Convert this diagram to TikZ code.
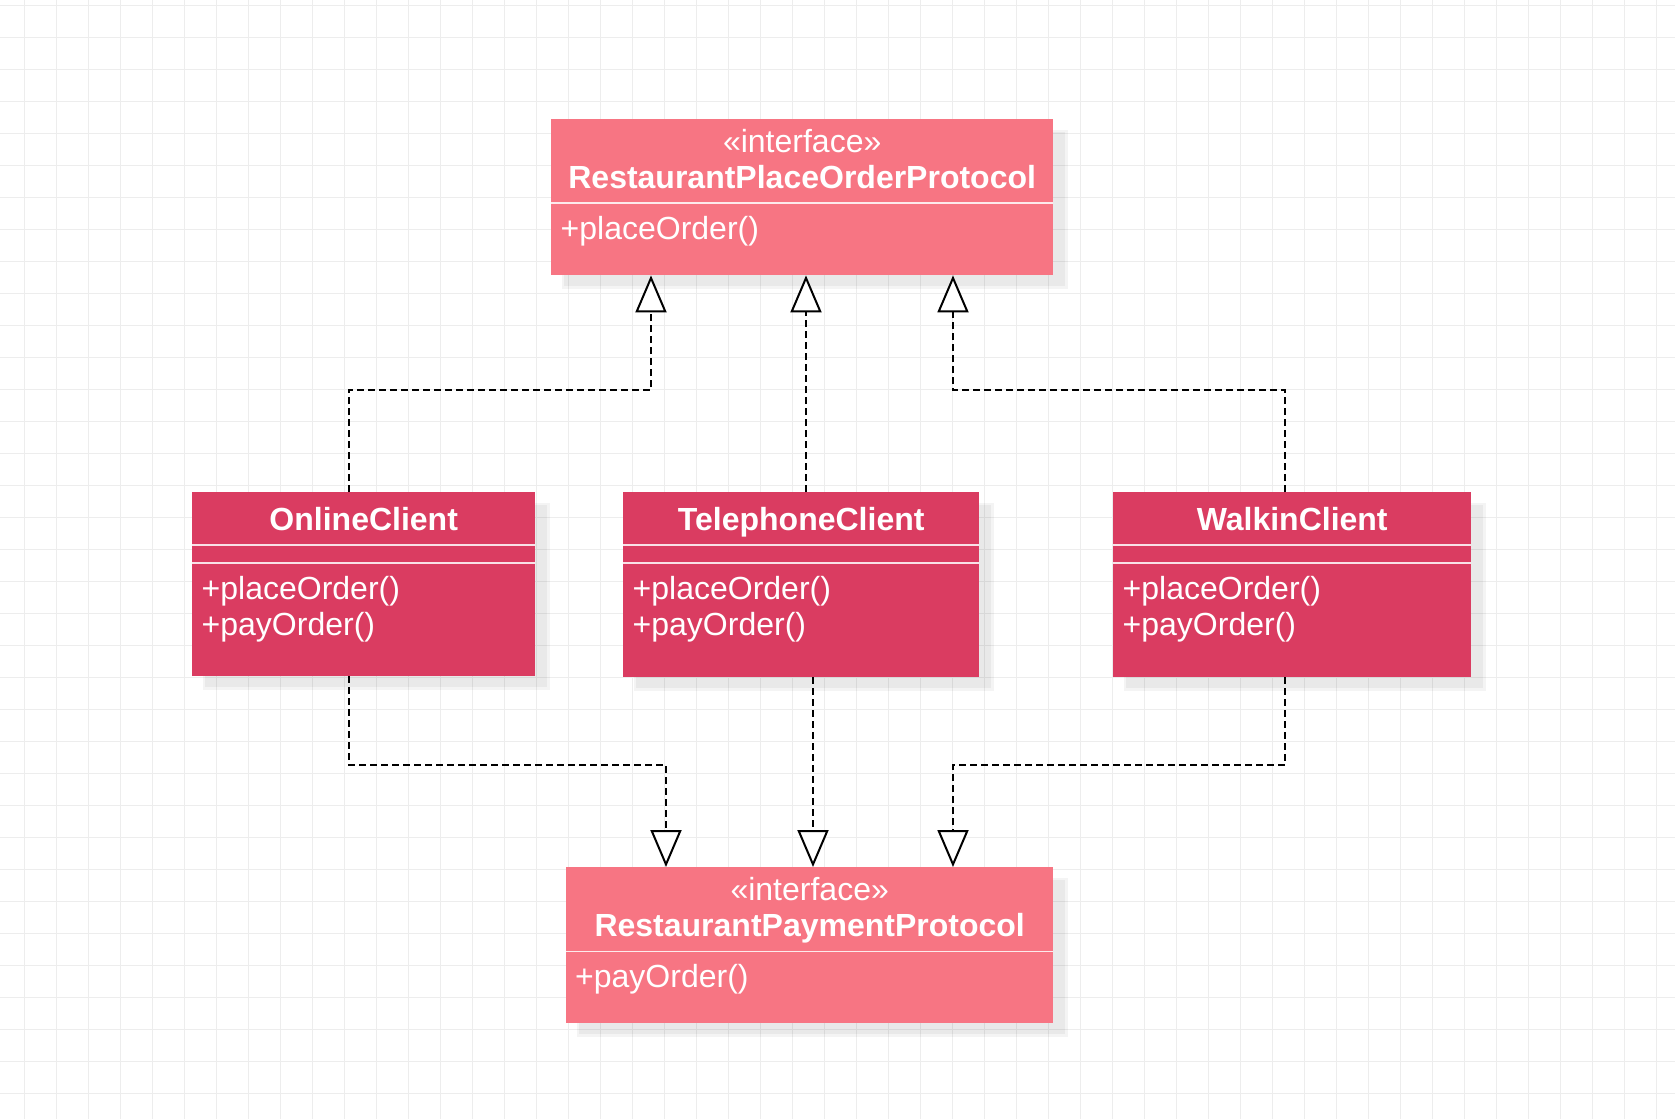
\documentclass[tikz,border=0pt]{standalone}
\usepackage{fontspec}
\setmainfont{Liberation Sans}
\usetikzlibrary{arrows.meta,calc}
\definecolor{ifc}{RGB}{247,117,131}
\definecolor{clc}{RGB}{218,60,97}
\definecolor{gridc}{RGB}{237,237,237}
\tikzset{
  ibox/.style={fill=ifc, draw=none, inner sep=0pt, anchor=north west},
  cbox/.style={fill=clc, draw=none, inner sep=0pt, anchor=north west},
  divl/.style={draw=white, draw opacity=0.85, line width=1.8pt},
  txt/.style={text=white, inner sep=0pt, font=\fontsize{32}{38}\selectfont},
  ttl/.style={text=white, inner sep=0pt, font=\fontsize{32}{38}\selectfont\bfseries, anchor=base},
  shad/.style={fill=black, fill opacity=0.045},
  dep/.style={draw=black, line width=2pt, dash pattern=on 7pt off 4pt,
    -{Triangle[open, fill=white, length=37pt, width=31pt, line width=2pt]}},
}
\begin{document}
\begin{tikzpicture}[x=1pt,y=-1pt]
\fill[white] (0,0) rectangle (1675,1119);
\useasboundingbox (0,0) rectangle (1675,1119);
% grid
\foreach \x in {24,56,...,1672} \draw[gridc,line width=1pt] (\x,0) -- (\x,1119);
\foreach \y in {5,37,...,1119} \draw[gridc,line width=1pt] (0,\y) -- (1675,\y);
% shadows
\foreach \a/\b/\c/\d in {551/119/1053/275, 192/492/535/676, 623/492/979/677, 1113/492/1471/677, 566/867/1053/1023}{
  \fill[shad] (\a+11,\b+11) rectangle (\c+15,\d+14);
  \fill[shad] (\a+13,\b+13) rectangle (\c+12,\d+11);
}
% boxes
\node[ibox, minimum width=502pt, minimum height=156pt] (place) at (551,119) {};
\node[cbox, minimum width=343pt, minimum height=184pt] (online) at (192,492) {};
\node[cbox, minimum width=356pt, minimum height=185pt] (tel) at (623,492) {};
\node[cbox, minimum width=358pt, minimum height=185pt] (walk) at (1113,492) {};
\node[ibox, minimum width=487pt, minimum height=156pt] (pay) at (566,867) {};
% dividers
\draw[divl] ($(place.north west)+(0,84)$) -- ($(place.north east)+(0,84)$);
\draw[divl] ($(pay.north west)+(0,84.5)$) -- ($(pay.north east)+(0,84.5)$);
\foreach \n in {online,tel,walk}{
  \draw[divl] ($(\n.north west)+(0,53)$) -- ($(\n.north east)+(0,53)$);
  \draw[divl] ($(\n.north west)+(0,71)$) -- ($(\n.north east)+(0,71)$);
}
% texts
\node[txt, anchor=base] (placeS) at ($(place.north)+(0,33)$) {«interface»};
\node[ttl] (placeT) at ($(place.north)+(0,69)$) {RestaurantPlaceOrderProtocol};
\node[txt, anchor=base west] (placeM) at ($(place.north west)+(9.5,120)$) {+placeOrder()};
\node[txt, anchor=base] (payS) at ($(pay.north)+(0,33)$) {«interface»};
\node[ttl] (payT) at ($(pay.north)+(0,69)$) {RestaurantPaymentProtocol};
\node[txt, anchor=base west] (payM) at ($(pay.north west)+(9,120)$) {+payOrder()};
\node[ttl] (onlineT) at ($(online.north)+(0,38)$) {OnlineClient};
\node[ttl] (telT) at ($(tel.north)+(0,38)$) {TelephoneClient};
\node[ttl] (walkT) at ($(walk.north)+(0,38)$) {WalkinClient};
\foreach \n in {online,tel,walk}{
  \node[txt, anchor=base west] (\n M1) at ($(\n.north west)+(9.5,107)$) {+placeOrder()};
  \node[txt, anchor=base west] (\n M2) at ($(\n.north west)+(9.5,143)$) {+payOrder()};
}
% connector ports
\coordinate (h1) at (0,390);
\coordinate (h2) at (0,765);
\coordinate (p1) at ([xshift=100pt]place.south west);
\coordinate (p2) at ([xshift=255pt]place.south west);
\coordinate (p3) at ([xshift=402pt]place.south west);
\coordinate (q1) at ([xshift=100pt]pay.north west);
\coordinate (q2) at ([xshift=247pt]pay.north west);
\coordinate (q3) at ([xshift=387pt]pay.north west);
\coordinate (ot) at ([xshift=157pt]online.north west);
\coordinate (ob) at ([xshift=157pt]online.south west);
\coordinate (tt) at ([xshift=183pt]tel.north west);
\coordinate (tb) at ([xshift=190pt]tel.south west);
\coordinate (wt) at ([xshift=172pt]walk.north west);
\coordinate (wb) at ([xshift=172pt]walk.south west);
% connectors
\draw[dep] (ot) -- (ot |- h1) -- (p1 |- h1) -- (p1);
\draw[dep] (tt) -- (p2);
\draw[dep] (wt) -- (wt |- h1) -- (p3 |- h1) -- (p3);
\draw[dep] (ob) -- (ob |- h2) -- (q1 |- h2) -- (q1);
\draw[dep] (tb) -- (q2);
\draw[dep] (wb) -- (wb |- h2) -- (q3 |- h2) -- (q3);
\end{tikzpicture}
\end{document}
